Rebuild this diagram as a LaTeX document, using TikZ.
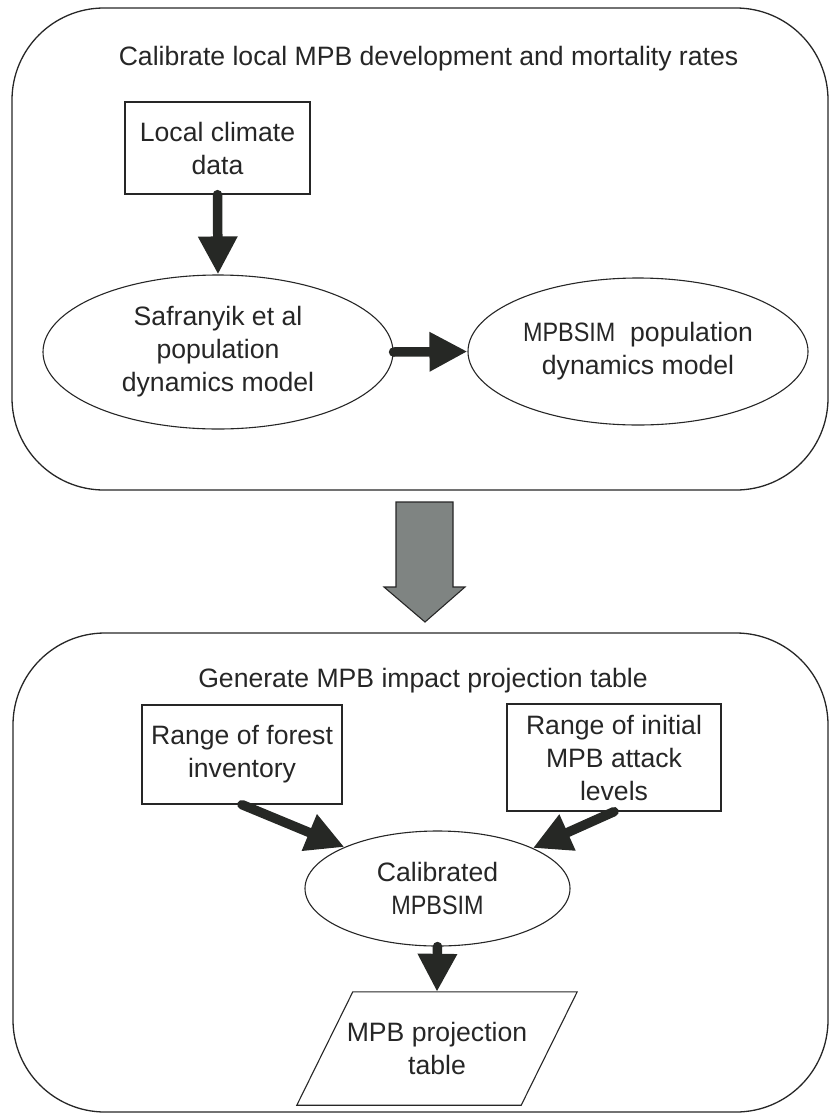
\documentclass[tikz,border=0pt]{standalone}
\usepackage{fontspec}
\setmainfont{Liberation Sans}
\usetikzlibrary{arrows.meta,shapes.geometric}
\definecolor{ink}{HTML}{262626}
\definecolor{arrowc}{HTML}{262825}
\definecolor{greyarrow}{HTML}{7F8482}
\newcommand{\narrow}[1]{\scalebox{0.88}[1]{#1}}
\tikzset{
  txt/.style={font=\fontsize{26.6}{33}\selectfont, text=ink, align=center},
  panel/.style={draw=ink, line width=1.3pt, rounded corners=92pt, inner sep=0pt},
  databox/.style={txt, draw=ink, line width=1.3pt, inner sep=0pt},
  oval/.style={txt, ellipse, draw=ink, line width=1.1pt, inner sep=0pt},
  bigarrow/.style={draw=arrowc, line width=9.5pt, line cap=round,
     -{Triangle[length=38pt,width=37pt]}},
}
\begin{document}
\begin{tikzpicture}[x=1pt,y=-1pt]
\useasboundingbox (0,0) rectangle (829,1114);
% panels
\node[panel, minimum width=816pt, minimum height=482pt] (top) at (420,249) {};
\node[panel, minimum width=815pt, minimum height=479pt] (bot) at (420.5,872.5) {};
% titles
\node[txt, anchor=base] (t1) at (428.5,65) {Calibrate local MPB development and mortality rates};
\node[txt, anchor=base] (t2) at (423,687) {Generate MPB impact projection table};
% top panel nodes
\node[databox, minimum width=185pt, minimum height=92pt] (clim) at (217.5,148) {Local climate\\data};
\node[oval, minimum width=350pt, minimum height=154pt] (saf) at (218,352) {Safranyik et al\\population\\dynamics model};
\node[oval, minimum width=340pt, minimum height=147pt] (sim) at (638,351.5) {\narrow{MPBSIM}\ \ population\\dynamics model};
\draw[bigarrow] (clim.south) -- (saf.north);
\draw[bigarrow] (saf.east) -- (sim.west);
% grey transfer arrow
\coordinate (ga) at (424.5,502);
\filldraw[fill=greyarrow, draw=ink, line width=1.1pt, line join=miter]
  ([xshift=-28.5pt]ga) -- ([xshift=28.5pt]ga) -- ([xshift=28.5pt,yshift=-85pt]ga)
  -- ([xshift=40.5pt,yshift=-85pt]ga) -- ([xshift=0.5pt,yshift=-120pt]ga)
  -- ([xshift=-40.5pt,yshift=-85pt]ga) -- ([xshift=-28.5pt,yshift=-85pt]ga) -- cycle;
% bottom panel nodes
\node[databox, minimum width=200pt, minimum height=99pt] (forest) at (242,754.5) {Range of forest\\inventory};
\node[databox, minimum width=214pt, minimum height=107pt] (init) at (614,757.5) {Range of initial\\MPB attack\\levels};
\node[oval, minimum width=265pt, minimum height=115pt] (cal) at (437.5,888.5) {Calibrated\\\narrow{MPBSIM}};
\node[txt, minimum width=224pt, minimum height=113pt, inner sep=0pt] (tab) at (437,1048.5) {MPB projection\\table};
\draw[ink, line width=1.1pt, line join=miter]
  ([xshift=-28pt]tab.south west) -- ([xshift=28pt]tab.north west)
  -- ([xshift=28pt]tab.north east) -- ([xshift=-28pt]tab.south east) -- cycle;
\draw[bigarrow] (forest.south) -- (cal.156);
\draw[bigarrow] (init.south) -- (cal.23);
\draw[bigarrow] (cal.south) -- (tab.north);
\end{tikzpicture}
\end{document}
